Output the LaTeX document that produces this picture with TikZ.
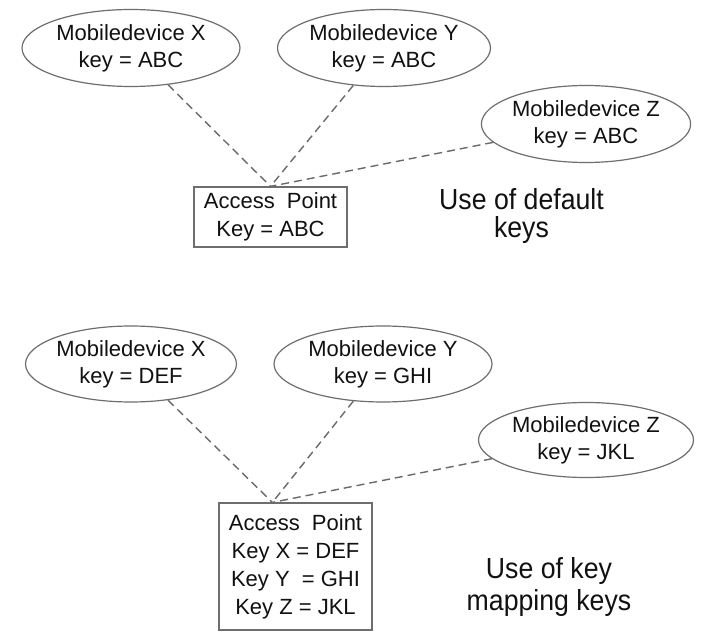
\documentclass[tikz,border=0pt]{standalone}
\usepackage{fontspec}
\setmainfont{Liberation Sans}
\newfontfamily\labelfont[FakeStretch=0.92]{Liberation Sans}
\usetikzlibrary{shapes.geometric,calc}
\definecolor{txt}{HTML}{111111}
\definecolor{edge}{HTML}{6E6E6E}
\definecolor{dashc}{HTML}{6A6A6A}
\begin{document}
\begin{tikzpicture}[x=1pt,y=-1pt,
  device/.style={ellipse,draw=edge,line width=1.2pt,inner sep=0pt,align=center,
    text=txt,font=\fontsize{22}{27}\selectfont},
  apbox/.style={rectangle,draw=edge,line width=1.2pt,inner sep=0pt,align=center,
    text=txt,font=\fontsize{22}{28}\selectfont},
  caption/.style={align=center,inner sep=0pt,text=txt},
  link/.style={draw=dashc,line width=1.4pt,dash pattern=on 8pt off 5pt}]
\useasboundingbox[fill=white] (0,0) rectangle (724,644);

% ---------- top: default keys ----------
\node[device,minimum width=218pt,minimum height=77pt] (tX) at (131,48)
  {Mobiledevice X\\key = ABC};
\node[device,minimum width=213pt,minimum height=77pt] (tY) at (384,48)
  {Mobiledevice Y\\key = ABC};
\node[device,minimum width=208pt,minimum height=77pt] (tZ) at (586,124)
  {Mobiledevice Z\\key = ABC};
\node[apbox,minimum width=153pt,minimum height=60pt] (tAP) at (270.5,217)
  {Access~ Point\\Key = ABC};
\node[caption,font=\labelfont\fontsize{29}{27.5}\selectfont] (tCap) at (521.5,216)
  {Use of default\\keys};

\draw[link] (tX) -- (tAP.north);
\draw[link] (tY) -- (tAP.north);
\draw[link] (tZ) -- (tAP.north);

% ---------- bottom: key mapping ----------
\node[device,minimum width=210pt,minimum height=76pt] (bX) at (131,364)
  {Mobiledevice X\\key = DEF};
\node[device,minimum width=218pt,minimum height=76pt] (bY) at (383,364)
  {Mobiledevice Y\\key = GHI};
\node[device,minimum width=215pt,minimum height=75pt] (bZ) at (586,440)
  {Mobiledevice Z\\key = JKL};
\node[apbox,minimum width=153pt,minimum height=127pt] (bAP) at (295.5,566.5)
  {Access~ Point\\Key X = DEF\\Key Y~ = GHI\\Key Z = JKL};
\coordinate (bHub) at ($(bAP.north west)+(54,0)$);
\node[caption,font=\labelfont\fontsize{29}{32}\selectfont] (bCap) at (549,587)
  {Use of key\\mapping keys};

\draw[link] (bX) -- (bHub);
\draw[link] (bY) -- (bHub);
\draw[link] (bZ) -- (bHub);
\end{tikzpicture}
\end{document}
